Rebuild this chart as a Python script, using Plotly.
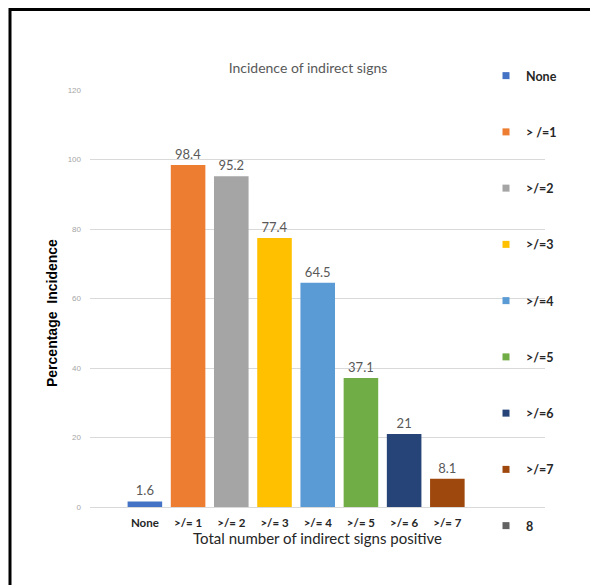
import plotly.graph_objects as go

categories = ["None", ">/= 1", ">/= 2", ">/= 3", ">/= 4", ">/= 5", ">/= 6", ">/= 7"]
values = [1.6, 98.4, 95.2, 77.4, 64.5, 37.1, 21, 8.1]
value_labels = ["1.6", "98.4", "95.2", "77.4", "64.5", "37.1", "21", "8.1"]
legend_names = ["None", "> /=1", ">/=2", ">/=3", ">/=4", ">/=5", ">/=6", ">/=7", "8"]
colors = ["#4472C4", "#ED7D31", "#A5A5A5", "#FFC000", "#5B9BD5",
          "#70AD47", "#264478", "#9E480E", "#636363"]
y_ticks = [0, 20, 40, 60, 80, 100, 120]

NARROW = "Lato, Open Sans, sans-serif"

fig = go.Figure()

xs = list(range(len(categories)))
fig.add_trace(go.Bar(
    x=xs, y=values, width=0.8,
    marker=dict(color=colors[:len(values)], line=dict(width=0)),
    text=value_labels, textposition="outside", cliponaxis=False,
    textfont=dict(family=NARROW, size=13, color="#595959"),
    showlegend=False, hoverinfo="skip",
))

for i, (name, col) in enumerate(zip(legend_names, colors)):
    fig.add_trace(go.Scatter(
        x=[None], y=[None], mode="markers", name="<b>%s</b>" % name,
        legendgroup="g%d" % i,
        marker=dict(symbol="square", size=7, color=col),
    ))

L, R, T, B = 90, 45, 90, 78
W, H = 590, 585
pw = W - L - R
ph = H - T - B

def px_x(p):
    return (p - L) / pw

def px_y(p):
    return (H - B - p) / ph

fig.update_layout(
    width=W, height=H,
    margin=dict(l=L, r=R, t=T, b=B, pad=0),
    paper_bgcolor="white", plot_bgcolor="white",
    title=dict(text="Incidence of indirect signs", x=308 / W, xanchor="center",
               y=1 - 68 / H, yanchor="middle",
               font=dict(family=NARROW, size=14, color="#595959")),
    xaxis=dict(range=[-1.27, 9.26], tickvals=xs, ticktext=["<b>%s</b>" % c for c in categories],
               tickfont=dict(family=NARROW, size=11.5, color="#262626"),
               showgrid=False, zeroline=False, showline=False, ticks="",
               ticklabelstandoff=7,
               title=dict(text="Total number of indirect signs positive",
                          font=dict(family=NARROW, size=15, color="#262626"), standoff=3)),
    yaxis=dict(range=[0, 120], tickvals=y_ticks,
               tickfont=dict(family="Liberation Sans, Arial", size=8, color="#a6a6a6"),
               showgrid=True, gridcolor="#d9d9d9", gridwidth=1,
               zeroline=True, zerolinecolor="#d9d9d9", zerolinewidth=1,
               showline=False, ticks="", ticklabelstandoff=8),
    legend=dict(x=px_x(486), xanchor="left", y=px_y(61), yanchor="top",
                font=dict(family=NARROW, size=12.5, color="#262626"),
                tracegroupgap=37, bgcolor="rgba(0,0,0,0)", itemwidth=30,
                maxheight=570),
    showlegend=True,
    bargap=0.2,
)

# y-axis title placed as in the reference (slightly below centre)
fig.add_annotation(text="<b>Percentage  Incidence</b>", textangle=-90,
                   xref="paper", yref="paper", x=px_x(52), y=px_y(313),
                   xanchor="center", yanchor="middle", showarrow=False,
                   font=dict(family="Liberation Sans, Arial", size=14, color="#000000"))

# frame lines (left and top)
fig.add_shape(type="line", xref="paper", yref="paper",
              x0=px_x(10), x1=px_x(10), y0=px_y(8), y1=px_y(590),
              line=dict(color="black", width=3))
fig.add_shape(type="line", xref="paper", yref="paper",
              x0=px_x(9), x1=px_x(595), y0=px_y(9.5), y1=px_y(9.5),
              line=dict(color="black", width=3))

fig.write_html("out.html")
